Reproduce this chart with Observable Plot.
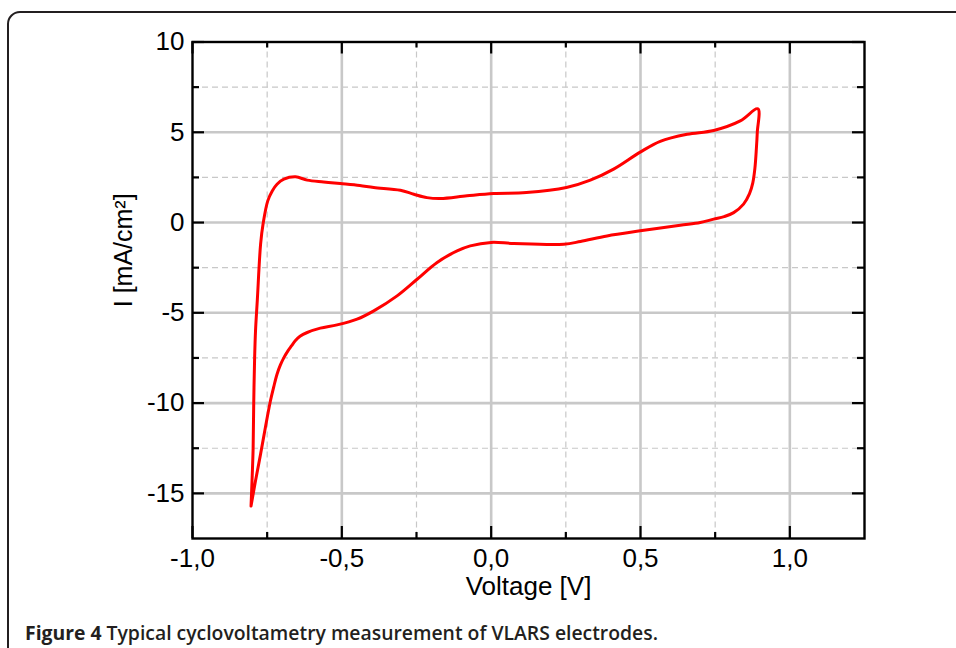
<!DOCTYPE html>
<html>
<head>
<meta charset="utf-8">
<script src="https://cdn.jsdelivr.net/npm/d3@7"></script>
<script src="https://cdn.jsdelivr.net/npm/@observablehq/plot@0.6"></script>
<style>
  html, body { margin: 0; padding: 0; background: #fff; overflow: hidden; }
  #wrap { position: relative; width: 956px; height: 648px; overflow: hidden; }
  #chart { position: absolute; left: 0; top: 0; }
  #card { position: absolute; left: 7px; top: 11px; width: 1000px; height: 700px;
          border: 2px solid #231f20; border-radius: 13px; pointer-events: none; z-index: 2; }
  #caption { position: absolute; left: 25px; top: 624px; white-space: nowrap;
             font-family: "Open Sans", "Noto Sans", sans-serif; font-size: 19px; line-height: 19px;
             color: #231f20; font-weight: 600; transform-origin: 0 0; z-index: 3; }
  #caption b { font-weight: 700; }
</style>
</head>
<body>
<div id="wrap">
  <div id="chart"></div>
  <div id="card"></div>
  <div id="caption"><b>Figure 4</b> Typical cyclovoltametry measurement of VLARS electrodes.</div>
</div>
<script>
// Cyclic voltammogram, in sweep order (V, mA/cm²)
const voltage = [
  -0.804, -0.800, -0.797, -0.795, -0.792, -0.789, -0.783, -0.772, -0.763, -0.748, -0.733, -0.717, -0.694, -0.655,
  -0.616, -0.561, -0.505, -0.440, -0.393, -0.304, -0.259, -0.215, -0.170, -0.081, 0.008, 0.118, 0.252, 0.332,
  0.410, 0.499, 0.566, 0.656, 0.745, 0.834, 0.893,
  0.891, 0.888, 0.883, 0.876, 0.865, 0.845, 0.812, 0.780, 0.745, 0.700, 0.633, 0.499, 0.388, 0.299, 0.243,
  0.076, 0.000, -0.070, -0.114, -0.181, -0.248, -0.315, -0.393, -0.449, -0.516, -0.572, -0.616, -0.640, -0.656,
  -0.668, -0.681, -0.694, -0.706, -0.717, -0.728, -0.739, -0.756, -0.772, -0.789, -0.804
];
const current = [
  -15.7, -14.0, -12.5, -10.0, -7.5, -6.0, -4.3, -1.2, 0.0, 1.2, 1.75, 2.12, 2.4, 2.53,
  2.35, 2.25, 2.16, 2.05, 1.94, 1.79, 1.57, 1.38, 1.33, 1.48, 1.61, 1.66, 1.94, 2.35,
  2.96, 3.9, 4.5, 4.89, 5.1, 5.63, 6.3,
  5.0, 4.1, 3.0, 2.2, 1.6, 1.02, 0.55, 0.33, 0.19, 0.0, -0.15, -0.46, -0.74, -1.05, -1.2,
  -1.16, -1.1, -1.29, -1.57, -2.21, -3.14, -4.06, -4.89, -5.35, -5.67, -5.85, -6.09, -6.3, -6.55,
  -6.82, -7.12, -7.48, -7.9, -8.4, -9.1, -9.87, -11.35, -12.82, -14.3, -15.7
];

const majorX = [-1.0, -0.5, 0.0, 0.5, 1.0];
const minorX = [-0.75, -0.25, 0.25, 0.75];
const majorY = [10, 5, 0, -5, -10, -15];
const minorY = [7.5, 2.5, -2.5, -7.5, -12.5];
const xTitle = "Voltage [V]";
const yTitle = "I [mA/cm²]";

const data = voltage.map((v, k) => ({v, i: current[k]}));

const W = 956, H = 612;
const mL = 192, mR = 92, mT = 41.5, mB = H - 538;
const fw = W - mL - mR, fh = H - mT - mB;
const grid = "#c8c8c8";

const chart = Plot.plot({
  width: W, height: H,
  marginLeft: mL, marginRight: mR, marginTop: mT, marginBottom: mB,
  style: {fontFamily: "'Liberation Sans', Arial, sans-serif", fontSize: "26px", color: "#000", background: "transparent"},
  x: {domain: [-1, 1.25], ticks: majorX, tickSize: 0, tickPadding: 10,
      tickFormat: d => d.toFixed(1).replace(".", ","), label: null},
  y: {domain: [-17.5, 10], ticks: majorY, tickSize: 0, tickPadding: 8,
      tickFormat: d => String(d), label: null},
  marks: [
    Plot.ruleX(minorX, {stroke: grid, strokeWidth: 1.2, strokeDasharray: "6,4"}),
    Plot.ruleY(minorY, {stroke: grid, strokeWidth: 1.2, strokeDasharray: "6,4"}),
    Plot.ruleX(majorX.slice(1), {stroke: grid, strokeWidth: 2.6}),
    Plot.ruleY(majorY.slice(1), {stroke: grid, strokeWidth: 2.6}),
    Plot.line(data, {x: "v", y: "i", stroke: "#ff0000", strokeWidth: 3, curve: "catmull-rom"}),
    // inward tick marks
    Plot.tickX(majorX, {x: d => d, insetTop: fh - 12, stroke: "#000", strokeWidth: 2.2}),
    Plot.tickX(majorX, {x: d => d, insetBottom: fh - 12, stroke: "#000", strokeWidth: 2.2}),
    Plot.tickX(minorX, {x: d => d, insetTop: fh - 6, stroke: "#000", strokeWidth: 2.2}),
    Plot.tickX(minorX, {x: d => d, insetBottom: fh - 6, stroke: "#000", strokeWidth: 2.2}),
    Plot.tickY(majorY, {y: d => d, insetRight: fw - 12, stroke: "#000", strokeWidth: 2.2}),
    Plot.tickY(majorY, {y: d => d, insetLeft: fw - 12, stroke: "#000", strokeWidth: 2.2}),
    Plot.tickY(minorY, {y: d => d, insetRight: fw - 7, stroke: "#000", strokeWidth: 2.2}),
    Plot.tickY(minorY, {y: d => d, insetLeft: fw - 7, stroke: "#000", strokeWidth: 2.2}),
    Plot.frame({stroke: "#000", strokeWidth: 2.4}),
    Plot.text([xTitle], {text: d => d, frameAnchor: "bottom", dy: 56, fontSize: 26}),
    Plot.text([yTitle], {text: d => d, frameAnchor: "left", rotate: -90, dx: -69, dy: 17, fontSize: 25})
  ]
});
document.getElementById("chart").appendChild(chart);

// fit caption width to the reference (~633px)
const cap = document.getElementById("caption");
const w = cap.getBoundingClientRect().width;
if (w > 0) cap.style.transform = `scaleX(${633 / w})`;
</script>
</body>
</html>
